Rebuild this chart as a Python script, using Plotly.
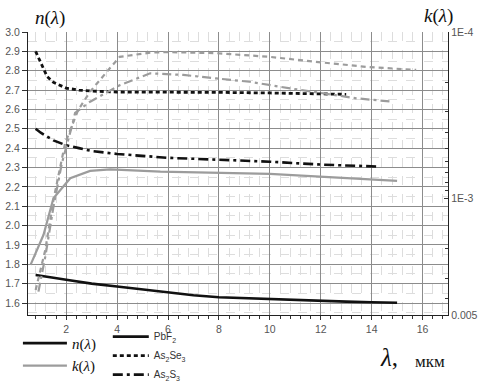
import plotly.graph_objects as go

# ---- data: refractive index n (left axis) ----
pbf2_x = [0.8, 1.0, 1.5, 2, 3, 4, 5, 6, 7, 8, 9, 10, 11, 12, 13, 14, 15]
pbf2_n = [1.745, 1.74, 1.73, 1.72, 1.70, 1.685, 1.67, 1.655, 1.64, 1.63, 1.625, 1.62, 1.615, 1.61, 1.607, 1.604, 1.601]

asse_x = [0.8, 1.0, 1.25, 1.5, 2, 2.5, 3, 4, 6, 8, 10, 12, 13]
asse_n = [2.90, 2.84, 2.77, 2.74, 2.71, 2.70, 2.695, 2.69, 2.69, 2.688, 2.685, 2.68, 2.678]

ass_x = [0.8, 1.0, 1.5, 2, 2.5, 3, 4, 5, 6, 8, 10, 12, 14.2]
ass_n = [2.50, 2.48, 2.44, 2.415, 2.40, 2.385, 2.37, 2.36, 2.35, 2.34, 2.33, 2.315, 2.305]

# ---- data: absorption index k (right log axis) ----
pbf2_kx = [0.6, 1.11, 1.5, 2.16, 2.94, 3.73, 5.7, 10, 15]
pbf2_k = [2.50e-3, 1.65e-3, 9.95e-4, 7.55e-4, 6.82e-4, 6.67e-4, 6.89e-4, 7.11e-4, 7.83e-4]

asse_kx = [0.8, 1.18, 1.5, 1.96, 2.47, 2.94, 3.73, 4.1, 5.3, 6.0, 7.9, 10, 11.8, 13.8, 15.75]
asse_k = [3.54e-3, 2.03e-3, 1.02e-3, 4.64e-4, 2.94e-4, 2.28e-4, 1.64e-4, 1.41e-4, 1.33e-4, 1.32e-4, 1.34e-4, 1.41e-4, 1.51e-4, 1.62e-4, 1.69e-4]

ass_kx = [0.91, 1.18, 1.5, 1.83, 2.22, 2.35, 2.94, 3.73, 4.12, 5.3, 6.6, 7.9, 9.2, 10.8, 12.1, 13.4, 14.8]
ass_k = [3.62e-3, 2.23e-3, 1.12e-3, 6.14e-4, 3.70e-4, 3.06e-4, 2.62e-4, 2.23e-4, 2.08e-4, 1.77e-4, 1.81e-4, 1.90e-4, 1.99e-4, 2.18e-4, 2.33e-4, 2.50e-4, 2.62e-4]

x_ticks = [2, 4, 6, 8, 10, 12, 14, 16]
k_ticks = [1e-4, 1e-3, 5e-3]
k_ticktext = ["1E-4", "1E-3", "0.005"]
k_minor = [2e-4, 3e-4, 4e-4, 5e-4, 6e-4, 7e-4, 8e-4, 9e-4, 2e-3, 3e-3, 4e-3]

BLACK = "#111111"
GRAY = "#9c9c9c"
SERIF = "Liberation Serif, Times New Roman, serif"
SANS = "Liberation Sans, Arial, sans-serif"

fig = go.Figure()

# gray k curves (right axis)
fig.add_trace(go.Scatter(x=pbf2_kx, y=pbf2_k, yaxis="y2", mode="lines",
                         line=dict(color=GRAY, width=2.2), showlegend=False))
fig.add_trace(go.Scatter(x=asse_kx, y=asse_k, yaxis="y2", mode="lines",
                         line=dict(color=GRAY, width=2.2, dash="5px,4px"), showlegend=False))
fig.add_trace(go.Scatter(x=ass_kx, y=ass_k, yaxis="y2", mode="lines",
                         line=dict(color=GRAY, width=2.2, dash="9px,4px,3px,4px"), showlegend=False))

# black n curves (left axis)
fig.add_trace(go.Scatter(x=pbf2_x, y=pbf2_n, mode="lines", name="PbF<sub>2</sub>",
                         line=dict(color=BLACK, width=2.6), legend="legend2"))
fig.add_trace(go.Scatter(x=asse_x, y=asse_n, mode="lines", name="As<sub>2</sub>Se<sub>3</sub>",
                         line=dict(color=BLACK, width=2.8, dash="4px,3px"), legend="legend2"))
fig.add_trace(go.Scatter(x=ass_x, y=ass_n, mode="lines", name="As<sub>2</sub>S<sub>3</sub>",
                         line=dict(color=BLACK, width=2.6, dash="10px,4px,3px,4px"), legend="legend2"))

# n / k legend keys
fig.add_trace(go.Scatter(x=[None], y=[None], mode="lines", name="<i>n</i>(<i>λ</i>)",
                         line=dict(color=BLACK, width=2.6), legend="legend"))
fig.add_trace(go.Scatter(x=[None], y=[None], mode="lines", name="<i>k</i>(<i>λ</i>)",
                         line=dict(color=GRAY, width=2.2), legend="legend"))

fig.update_layout(
    width=483, height=384,
    margin=dict(l=28, r=35, t=32, b=69, autoexpand=False),
    paper_bgcolor="white", plot_bgcolor="white",
    font=dict(family=SANS, size=10, color="#444"),
    xaxis=dict(
        range=[0.5, 17], tickvals=x_ticks, ticks="outside", ticklen=4, tickcolor="#333",
        showline=True, linecolor="#222", linewidth=1.2, zeroline=False,
        showgrid=True, gridcolor="#8c8c8c", gridwidth=1,
        minor=dict(dtick=0.4, tick0=0, ticks="outside", ticklen=3, tickcolor="#333",
                   showgrid=True, gridcolor="#dddddd", griddash="dash", gridwidth=1),
        tickfont=dict(family=SANS, size=10.5, color="#555"),
    ),
    yaxis=dict(
        range=[1.538, 3.0], dtick=0.1, tick0=0, tickformat=".1f",
        ticks="outside", ticklen=5, tickcolor="#333",
        showline=True, linecolor="#222", linewidth=1.2, zeroline=False,
        showgrid=True, gridcolor="#8c8c8c", gridwidth=1,
        minor=dict(dtick=0.05, tick0=0, showgrid=True, gridcolor="#dddddd",
                   griddash="dash", gridwidth=1),
        tickfont=dict(family=SANS, size=10.5, color="#555"),
    ),
    yaxis2=dict(
        type="log", overlaying="y", side="right", range=[-2.30103, -4],
        tickvals=k_ticks, ticktext=k_ticktext, ticks="inside", ticklen=4, tickcolor="#333",
        showline=True, linecolor="#222", linewidth=1.2, showgrid=False, zeroline=False,
        minor=dict(tickvals=k_minor, ticks="inside", ticklen=3, tickcolor="#333"),
        tickfont=dict(family=SANS, size=10.5, color="#555"),
    ),
    legend=dict(
        x=-0.024, y=-0.042, xanchor="left", yanchor="top", orientation="v",
        font=dict(family=SERIF, size=15, color=BLACK), bgcolor="rgba(0,0,0,0)",
        tracegroupgap=0, itemwidth=44,
    ),
    legend2=dict(
        x=0.19, y=-0.025, xanchor="left", yanchor="top", orientation="v",
        font=dict(family=SANS, size=10, color="#333"), bgcolor="rgba(0,0,0,0)",
        tracegroupgap=0, itemwidth=36,
    ),
    annotations=[
        dict(text="<i>n</i>(<i>λ</i>)", xref="paper", yref="paper", x=0.013, y=1.0,
             xanchor="left", yanchor="bottom", yshift=1, showarrow=False,
             font=dict(family=SERIF, size=19, color=BLACK)),
        dict(text="<i>k</i>(<i>λ</i>)", xref="paper", yref="paper", x=1.0, y=1.0,
             xanchor="center", yanchor="bottom", yshift=3, xshift=-10, showarrow=False,
             font=dict(family=SERIF, size=19, color=BLACK)),
        dict(text="<i>λ</i>,", xref="paper", yref="paper", x=0.86, y=-0.1506,
             xanchor="center", yanchor="middle", showarrow=False,
             font=dict(family=SERIF, size=25, color=BLACK)),
        dict(text="мкм", xref="paper", yref="paper", x=0.957, y=-0.165,
             xanchor="center", yanchor="middle", showarrow=False,
             font=dict(family=SERIF, size=17, color=BLACK)),
    ],
)

fig.write_html("out.html", config={"displayModeBar": False},
               post_script="document.body.style.margin='0';")
